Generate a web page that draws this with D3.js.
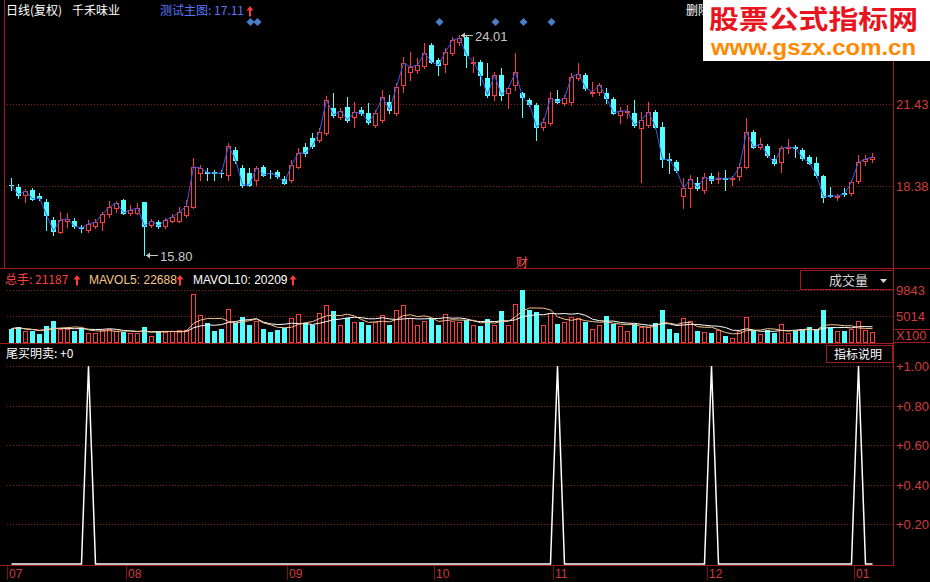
<!DOCTYPE html>
<html><head><meta charset="utf-8">
<script src="https://cdn.jsdelivr.net/npm/d3@7"></script>
<style>body{margin:0;background:#000;}svg{display:block;}</style>
</head><body>
<svg id="c" width="930" height="582"></svg>
<script>
// ---------- DATA ----------
const opens = [18.42,18.35,18.05,18.23,18.01,17.79,17.12,16.67,17.08,17.08,16.84,16.74,16.89,17.04,17.34,17.56,17.86,17.38,17.38,17.79,
16.93,17.04,16.89,17.08,17.08,17.30,17.60,18.86,18.90,18.90,18.88,18.79,19.72,19.05,18.86,18.60,19.09,18.88,18.90,18.64,
18.60,19.09,19.83,20.17,20.09,20.35,21.28,20.95,21.32,20.95,21.21,21.10,20.65,20.84,21.50,21.10,22.14,22.62,22.69,22.84,
23.62,23.07,22.92,23.33,23.74,23.92,22.95,22.99,22.40,21.77,22.51,21.84,22.14,21.84,21.58,21.39,20.57,20.72,21.62,21.47,
21.50,22.40,22.51,21.84,21.88,21.84,21.62,21.02,21.13,21.10,20.54,20.65,21.13,20.57,19.38,19.27,18.01,18.31,18.49,18.23,
18.75,18.64,18.68,18.64,18.75,19.09,20.39,19.83,19.87,19.38,19.27,19.79,19.83,19.72,19.46,19.24,18.75,18.05,17.97,18.12,
18.12,18.57,19.31,19.38];
const highs = [18.68,18.46,18.27,18.30,18.12,17.90,17.23,17.41,17.38,17.19,16.93,17.12,17.15,17.41,17.82,17.82,17.90,17.67,17.75,17.79,
17.15,17.12,17.19,17.34,17.60,17.86,19.42,19.16,19.05,18.97,18.97,19.98,19.83,19.16,19.05,19.12,19.16,18.97,18.97,18.75,
19.35,19.79,19.98,20.35,20.54,21.73,21.84,21.28,21.69,21.50,21.32,21.47,21.21,21.95,21.77,22.21,23.18,23.36,23.14,23.70,
23.70,23.14,23.51,23.92,24.01,23.96,23.18,23.07,22.95,22.62,22.77,22.06,23.33,21.88,21.65,21.47,20.91,21.88,21.95,21.77,
22.58,22.95,22.58,22.25,22.21,22.03,21.69,21.32,21.39,21.58,21.13,21.50,21.21,20.76,19.61,19.35,18.68,18.79,18.71,18.86,
18.86,18.90,18.97,18.75,19.24,20.91,20.46,20.17,19.94,19.53,19.87,20.13,19.91,19.79,19.53,19.46,18.79,18.34,18.08,18.31,
18.60,19.53,19.53,19.61];
const lows = [18.23,17.94,17.79,17.86,17.86,16.74,16.56,16.63,16.86,16.82,16.67,16.67,16.82,16.74,17.23,17.41,17.34,17.30,17.34,15.80,
16.86,16.82,16.82,17.04,17.04,17.23,17.56,18.60,18.60,18.60,18.71,18.60,19.24,18.34,18.38,18.42,18.75,18.68,18.68,18.46,
18.53,19.05,19.50,19.79,20.02,20.28,20.95,20.87,20.76,20.57,21.02,20.69,20.57,20.76,21.10,21.02,21.88,22.32,22.58,22.77,
22.95,22.51,22.62,23.25,23.62,22.81,22.62,22.14,21.69,21.58,21.58,21.28,21.95,20.95,21.36,20.09,20.46,20.65,21.47,21.39,
21.39,22.32,21.95,21.73,21.77,21.47,21.06,20.72,20.91,20.57,18.53,20.57,20.54,19.09,18.86,18.90,17.56,17.60,18.23,18.12,
18.49,18.49,18.23,18.42,18.60,19.05,19.79,19.76,19.46,19.16,18.90,19.61,19.46,19.35,19.20,18.71,17.79,17.97,17.86,18.01,
18.05,18.49,19.16,19.27];
const closes = [18.40,18.05,18.20,17.90,17.94,17.30,16.71,17.12,17.15,16.89,16.81,16.97,17.04,17.34,17.60,17.75,17.38,17.49,17.56,16.89,
17.08,16.89,17.12,17.23,17.41,17.64,19.09,19.05,18.88,18.86,18.86,19.87,19.35,18.42,18.42,19.05,18.79,18.86,18.75,18.49,
19.16,19.61,19.61,19.87,20.39,21.58,21.02,21.17,20.84,21.13,21.10,20.76,21.10,21.69,21.21,22.06,22.95,22.81,22.88,23.33,
22.99,22.88,23.36,23.81,23.88,23.25,22.99,22.51,21.77,22.51,21.77,22.03,22.62,21.69,21.43,20.57,20.76,21.65,21.50,21.65,
22.44,22.55,22.03,21.88,22.14,21.65,21.10,21.17,21.17,20.65,20.84,21.13,20.57,19.38,19.35,18.97,18.31,18.64,18.31,18.71,
18.60,18.68,18.64,18.68,19.09,20.39,19.83,19.94,19.53,19.24,19.79,19.83,19.79,19.42,19.24,18.79,17.97,18.01,18.01,18.08,
18.53,19.27,19.38,19.46];
const volumes = [2680,2980,2200,2200,1610,3160,4170,2680,2680,2200,2860,1790,1790,2380,2680,2200,2090,1790,1790,2980,
1370,2200,2090,2200,2380,2380,9120,5190,3750,2200,2680,6260,3750,4770,3280,4170,2680,2090,2380,2860,
4590,5360,3750,3280,5660,7150,5960,3400,4590,3990,3870,3280,3870,5190,3400,6080,6970,4590,3400,4170,
4470,3400,5360,4170,3870,4350,3280,3100,4470,3280,5900,3400,7330,9830,6080,5840,3280,5660,3460,3870,
4770,4590,3990,2680,3280,4950,3460,3100,2200,3460,2980,2980,3750,6080,2560,1790,4590,4050,2200,1970,
1790,2380,1370,1010,2200,4770,2380,1610,2380,1790,3580,1790,2200,2380,2980,2680,6080,2860,2200,2200,
2680,4050,2380,1970];
const signal = [0,0,0,0,0,0,0,0,0,0,0,1,0,0,0,0,0,0,0,0,
0,0,0,0,0,0,0,0,0,0,0,0,0,0,0,0,0,0,0,0,
0,0,0,0,0,0,0,0,0,0,0,0,0,0,0,0,0,0,0,0,
0,0,0,0,0,0,0,0,0,0,0,0,0,0,0,0,0,0,1,0,
0,0,0,0,0,0,0,0,0,0,0,0,0,0,0,0,0,0,0,0,
1,0,0,0,0,0,0,0,0,0,0,0,0,0,0,0,0,0,0,0,
0,1,0,0];
const monthLabels = ["07","08","09","10","11","12","01"];
const monthStarts = [0,17,40,61,78,100,121];
const priceTicks = [21.43, 18.38];
const volTicks = [9843, 5014];
const sigTicks = [1.00, 0.80, 0.60, 0.40, 0.20];
const diamondIdx = [34,35,61,69,73,77];
const caiIdx = [73];

// ---------- SETUP ----------
const N = closes.length;
const svg = d3.select('#c');
const RED = '#ff3c3c', CYAN = '#54ffff', FRAME = '#a01c1c', GRID = '#8c1a1a', AX = '#d03c3c';
const CJK = '"Noto Sans CJK SC","Liberation Sans",sans-serif';
const LAT = '"Liberation Sans",Arial,sans-serif';
svg.append('rect').attr('width',930).attr('height',582).attr('fill','#000');

const x = d3.scaleBand().domain(d3.range(N)).range([7.5, 875.5]).paddingInner(0.28).paddingOuter(0.14);
const cx = i => Math.round(x(i) + x.bandwidth()/2);
const yP = d3.scaleLinear().domain([priceTicks[1], priceTicks[0]]).range([186, 104]);
const yV = d3.scaleLinear().domain([0, volTicks[0]]).range([343, 290]);
const yS = d3.scaleLinear().domain([0, 1]).range([564, 366]);

// ---------- FRAME ----------
const fr = svg.append('g').attr('stroke', FRAME).attr('shape-rendering','crispEdges');
fr.append('line').attr('x1',0).attr('x2',930).attr('y1',268.5).attr('y2',268.5);
fr.append('line').attr('x1',0).attr('x2',893).attr('y1',343.5).attr('y2',343.5);
fr.append('line').attr('x1',0).attr('x2',893).attr('y1',565.5).attr('y2',565.5);
fr.append('line').attr('x1',893.5).attr('x2',893.5).attr('y1',0).attr('y2',566);
fr.append('line').attr('x1',4.5).attr('x2',4.5).attr('y1',0).attr('y2',268);

// grids
const gg = svg.append('g').attr('stroke', GRID).attr('stroke-dasharray','1,2').attr('shape-rendering','crispEdges');
priceTicks.forEach(t => gg.append('line').attr('x1',7).attr('x2',893).attr('y1',Math.round(yP(t))+0.5).attr('y2',Math.round(yP(t))+0.5));
volTicks.forEach(t => gg.append('line').attr('x1',7).attr('x2',893).attr('y1',Math.round(yV(t))+0.5).attr('y2',Math.round(yV(t))+0.5));
sigTicks.forEach(t => gg.append('line').attr('x1',7).attr('x2',893).attr('y1',Math.round(yS(t))+0.5).attr('y2',Math.round(yS(t))+0.5));

// axis labels
const al = svg.append('g').attr('fill', AX).attr('font-family', LAT).attr('font-size', 13);
priceTicks.forEach(t => al.append('text').attr('x',896).attr('y',yP(t)+5).text(d3.format('.2f')(t)));
volTicks.forEach(t => al.append('text').attr('x',896).attr('y',yV(t)+5).text(t));
al.append('text').attr('x',896).attr('y',340).text('X100');
fr.append('rect').attr('x',893.5).attr('y',329.5).attr('width',40).attr('height',13).attr('fill','none');
sigTicks.forEach(t => al.append('text').attr('x',896).attr('y',yS(t)+5).text('+' + d3.format('.2f')(t)));

// ---------- CANDLES ----------
const cg = svg.append('g').attr('shape-rendering','crispEdges');
d3.range(N).forEach(i => {
  const o = opens[i], c = closes[i], up = c > o;
  const col = up ? RED : CYAN;
  const X = cx(i);
  const top = Math.round(yP(Math.max(o,c))), bot = Math.round(yP(Math.min(o,c)));
  const hi = Math.round(yP(highs[i])), lo = Math.round(yP(lows[i]));
  cg.append('line').attr('x1',X+0.5).attr('x2',X+0.5).attr('y1',hi).attr('y2',top).attr('stroke',col);
  cg.append('line').attr('x1',X+0.5).attr('x2',X+0.5).attr('y1',bot).attr('y2',lo+1).attr('stroke',col);
  if (bot - top < 1) {
    cg.append('line').attr('x1',X-2).attr('x2',X+3).attr('y1',top+0.5).attr('y2',top+0.5).attr('stroke',col);
  } else if (up) {
    cg.append('rect').attr('x',X-1.5).attr('y',top+0.5).attr('width',4).attr('height',bot-top).attr('fill','#000').attr('stroke',col);
  } else {
    cg.append('rect').attr('x',X-2).attr('y',top).attr('width',5).attr('height',bot-top+1).attr('fill',col);
  }
});
// close line
svg.append('path').datum(d3.range(N)).attr('fill','none').attr('stroke','#3d5ae6').attr('stroke-width',1)
  .attr('d', d3.line().x(i => cx(i)+0.5).y(i => yP(closes[i])));

// high / low annotations
const iMax = d3.maxIndex(highs), iMin = d3.minIndex(lows);
const an = svg.append('g').attr('stroke','#c8c8c8').attr('fill','#c8c8c8');
[[iMax, highs[iMax]],[iMin, lows[iMin]]].forEach(([i,v]) => {
  const X = cx(i) + 2, Y = Math.round(yP(v)) + 0.5;
  an.append('line').attr('x1',X).attr('x2',X+12).attr('y1',Y).attr('y2',Y);
  an.append('path').attr('stroke','none').attr('d',`M${X},${Y}l4,-3v6z`);
  an.append('text').attr('stroke','none').attr('x',X+14).attr('y',Y+5).attr('font-family',LAT).attr('font-size',13).text(d3.format('.2f')(v));
});

// diamonds
svg.append('g').selectAll('path').data(diamondIdx).join('path')
  .attr('d', i => `M${cx(i)+1.5},18l4,4l-4,4l-4,-4z`).attr('fill','#4a7fc8');

// 财 marker
caiIdx.forEach(i => {
  svg.append('text').attr('x',cx(i)).attr('y',267).attr('text-anchor','middle').attr('fill','#ff5050')
    .attr('font-family',CJK).attr('font-size',12).text('财');
});

// ---------- VOLUME ----------
const vg = svg.append('g').attr('shape-rendering','crispEdges');
d3.range(N).forEach(i => {
  const up = closes[i] > opens[i];
  const X = cx(i), top = Math.round(yV(volumes[i])), bot = 343;
  if (up) vg.append('rect').attr('x',X-1.5).attr('y',top+0.5).attr('width',4).attr('height',bot-top-1).attr('fill','#000').attr('stroke',RED);
  else vg.append('rect').attr('x',X-2).attr('y',top).attr('width',5).attr('height',bot-top).attr('fill',CYAN);
});
const ma = n => d3.range(N).map(i => d3.mean(volumes.slice(Math.max(0,i-n+1), i+1)));
const ma5 = ma(5), ma10 = ma(10);
svg.append('path').datum(ma10).attr('fill','none').attr('stroke','#ffffff').attr('stroke-width',1)
  .attr('d', d3.line().x((d,i)=>cx(i)+0.5).y(d=>yV(d)));
svg.append('path').datum(ma5).attr('fill','none').attr('stroke','#f7c58f').attr('stroke-width',1)
  .attr('d', d3.line().x((d,i)=>cx(i)+0.5).y(d=>yV(d)));

// ---------- SIGNAL ----------
svg.append('path').datum(signal).attr('fill','none').attr('stroke','#ffffff').attr('stroke-width',1.5)
  .attr('d', d3.line().x((d,i)=>cx(i)+0.5).y(d=>yS(d)));

// ---------- X AXIS ----------
const xa = svg.append('g');
monthStarts.forEach((s,k) => {
  const X = Math.round(x(s)) - 1;
  xa.append('line').attr('x1',X+0.5).attr('x2',X+0.5).attr('y1',566).attr('y2',580).attr('stroke','#7a1010').attr('shape-rendering','crispEdges');
  xa.append('text').attr('x',Math.max(X+2,4)).attr('y',578).attr('fill',AX).attr('font-family',LAT).attr('font-size',12).text(monthLabels[k]);
});

// ---------- HEADERS ----------
const arrow = (X, Y) => svg.append('path').attr('d',`M${X},${Y-9}l-3.5,4.5h2.5v6h2v-6h2.5z`).attr('fill','#ff3c3c');
const t = (X,Y,s,col,fam) => svg.append('text').attr('x',X).attr('y',Y).attr('fill',col).attr('font-family',fam||CJK).attr('font-size',12).text(s);
t(6,15,'日线(复权)','#ffffff');
t(72,15,'千禾味业','#ffffff');
t(160,15,'测试主图: 17.11','#5a78ff');
arrow(250,15);
t(5,284,'总手: 21187','#ff4040');
arrow(77,284);
t(89,284,'MAVOL5: 22688','#f7c58f',LAT);
arrow(180,284);
t(193,284,'MAVOL10: 20209','#ffffff',LAT);
arrow(293,284);
t(6,358,'尾买明卖: +0','#ffffff');
t(686,15,'删除','#ffffff');

// boxes
fr.append('rect').attr('x',800.5).attr('y',270.5).attr('width',93).attr('height',19).attr('fill','#000');
t(829,285,'成交量','#d8d8d8').attr('font-size',13);
svg.append('path').attr('d','M880,279h7l-3.5,4z').attr('fill','#d8d8d8');
svg.append('rect').attr('x',826.5).attr('y',345.5).attr('width',66).attr('height',17).attr('fill','#000').attr('stroke',FRAME);
t(834,359,'指标说明','#ffffff');

// watermark
svg.append('rect').attr('x',703).attr('y',0).attr('width',227).attr('height',61).attr('fill','#ffffff');
svg.append('text').attr('x',709).attr('y',29).attr('fill','#e8141e').attr('font-family',CJK).attr('font-weight','bold')
  .attr('font-size',26).attr('textLength',209).attr('lengthAdjust','spacingAndGlyphs').text('股票公式指标网');
svg.append('text').attr('x',711).attr('y',55).attr('fill','#ff8a00').attr('font-family',LAT).attr('font-weight','bold')
  .attr('font-size',22).attr('textLength',205).attr('lengthAdjust','spacingAndGlyphs').text('www.gszx.com.cn');
</script>
</body></html>
